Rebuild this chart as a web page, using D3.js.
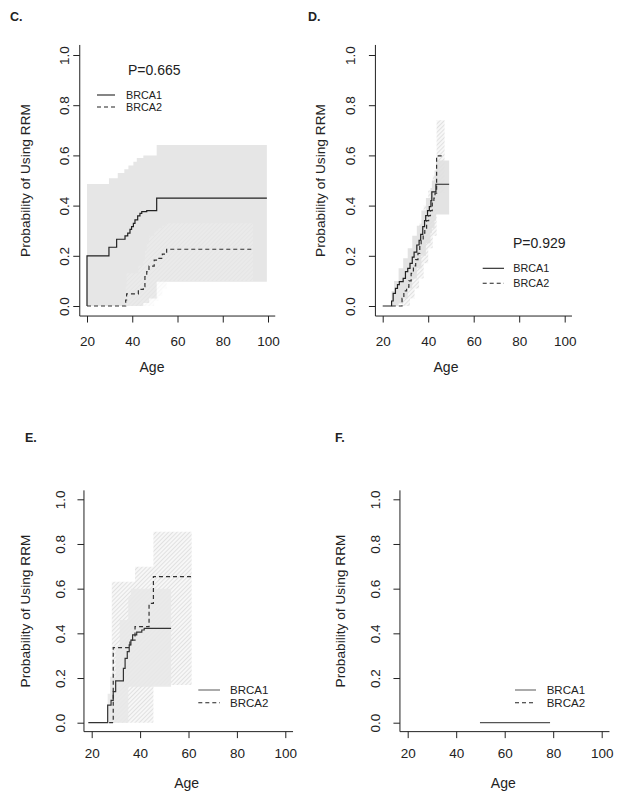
<!DOCTYPE html>
<html><head><meta charset="utf-8">
<script src="https://cdn.jsdelivr.net/npm/d3@7"></script>
<style>
body{margin:0;background:#fff}
svg{display:block}
text{font-family:"Liberation Sans",Arial,sans-serif;fill:#222}
</style>
</head><body>
<svg id="chart" width="624" height="801"></svg>
<script>
// ---------- data ----------
const xTicks = [20, 40, 60, 80, 100];
const yTicks = [0, 0.2, 0.4, 0.6, 0.8, 1.0];
const seriesNames = ["BRCA1", "BRCA2"];
const pValues = {C: "P=0.665", D: "P=0.929"};

// Panel C
const cAge1 = [20, 20, 29.7, 33.1, 36.8, 38.0, 39.0, 39.7, 40.5, 41.2, 42.4, 43.4, 44.2, 46.4, 50.8, 99.5];
const cVal1 = [0, 0.2, 0.234, 0.266, 0.279, 0.29, 0.305, 0.316, 0.329, 0.343, 0.359, 0.369, 0.376, 0.38, 0.43, 0.43];
const cAge2 = [20, 37.1, 37.5, 42.7, 44.9, 45.6, 46.4, 47.4, 49.7, 51.5, 53.3, 55.2, 93.3];
const cVal2 = [0, 0.024, 0.048, 0.066, 0.077, 0.117, 0.137, 0.159, 0.183, 0.19, 0.207, 0.226, 0.226];
const cBandAge1 = [20, 29.7, 33.6, 36.5, 38.3, 40.5, 42, 44.9, 47.5, 50.8, 99.5];
const cBandHi1 = [0.486, 0.509, 0.53, 0.545, 0.56, 0.575, 0.59, 0.60, 0.60, 0.641, 0.641];
const cBandLo1 = [0, 0, 0, 0, 0, 0, 0, 0.012, 0.03, 0.097, 0.097];
const cBandAge2 = [37.1, 37.5, 42.7, 44.9, 45.6, 46.4, 47.4, 49.7, 51.5, 53.3, 55.2, 93.3];
const cBandHi2 = [0.08, 0.13, 0.16, 0.18, 0.22, 0.25, 0.28, 0.30, 0.31, 0.32, 0.33, 0.33];
const cBandLo2 = [0, 0, 0, 0, 0, 0, 0, 0.02, 0.04, 0.07, 0.10, 0.10];

// Panel D
const dAge1 = [20, 23.9, 24.6, 25.6, 26.5, 27.3, 29.0, 30.0, 31.0, 32.0, 33.0, 33.8, 35.0, 36.0, 36.7, 37.6, 38.4, 38.9, 39.7, 40.5, 41.2, 41.6, 43.4, 49.2];
const dVal1 = [0, 0.02, 0.05, 0.07, 0.085, 0.097, 0.11, 0.137, 0.15, 0.17, 0.195, 0.215, 0.243, 0.262, 0.285, 0.316, 0.34, 0.36, 0.38, 0.396, 0.42, 0.455, 0.485, 0.485];
const dAge2 = [24, 28.5, 29.3, 30.5, 31.5, 32.5, 33.5, 34.5, 35.5, 36.3, 36.9, 37.8, 38.5, 39.3, 40.2, 41.0, 41.8, 42.5, 43.0, 43.7, 46.7];
const dVal2 = [0, 0.03, 0.06, 0.075, 0.1, 0.13, 0.16, 0.185, 0.21, 0.24, 0.265, 0.29, 0.31, 0.34, 0.36, 0.38, 0.41, 0.43, 0.45, 0.598, 0.598];
const dBandAge1 = [23.9, 25, 27, 29, 31, 33, 35, 37, 39, 41, 41.6, 42.8, 43.4, 49.2];
const dBandHi1 = [0.06, 0.1, 0.15, 0.19, 0.23, 0.28, 0.32, 0.38, 0.43, 0.47, 0.50, 0.54, 0.58, 0.58];
const dBandLo1 = [0, 0, 0.01, 0.03, 0.07, 0.11, 0.15, 0.2, 0.25, 0.29, 0.31, 0.34, 0.365, 0.365];
const dBandAge2 = [28.5, 30, 32, 34, 36, 38, 40, 42, 43.7, 47.2];
const dBandHi2 = [0.06, 0.12, 0.2, 0.26, 0.33, 0.40, 0.46, 0.52, 0.74, 0.74];
const dBandLo2 = [0, 0, 0.03, 0.07, 0.11, 0.17, 0.23, 0.28, 0.45, 0.45];

// Panel E
const eAge1 = [18.6, 26.6, 28.0, 28.9, 29.9, 33.1, 33.8, 34.7, 35.5, 36.2, 36.9, 38.6, 40.7, 41.7, 52.8];
const eVal1 = [0, 0.079, 0.10, 0.139, 0.187, 0.243, 0.288, 0.318, 0.348, 0.37, 0.393, 0.405, 0.415, 0.422, 0.422];
const eAge2 = [27.2, 28.9, 35.8, 37.9, 43.7, 45.5, 61.3];
const eVal2 = [0, 0.336, 0.37, 0.43, 0.534, 0.654, 0.654];
const eBandAge1 = [26.6, 27.6, 29.9, 31.6, 35.1, 36.2, 52.8];
const eBandHi1 = [0.13, 0.206, 0.34, 0.46, 0.564, 0.6, 0.6];
const eBandLo1 = [0, 0, 0, 0, 0.161, 0.161, 0.161];
const eBandAge2 = [28.3, 37.9, 45.5, 61.3];
const eBandHi2 = [0.631, 0.698, 0.855, 0.855];
const eBandLo2 = [0, 0, 0.169, 0.169];

// Panel F
const fAge1 = [49.8, 78.7];
const fVal1 = [0, 0];

// ---------- drawing ----------
const svg = d3.select("#chart");
const defs = svg.append("defs");
const pat = defs.append("pattern").attr("id", "hatch")
  .attr("patternUnits", "userSpaceOnUse").attr("width", 3).attr("height", 3)
  .attr("patternTransform", "rotate(45)");
pat.append("rect").attr("width", 3).attr("height", 3).attr("fill", "#f7f7f7");
pat.append("line").attr("x1", 0.5).attr("y1", 0).attr("x2", 0.5).attr("y2", 3)
  .attr("stroke", "#e1e1e1").attr("stroke-width", 1);

const zip = (a, v) => a.map((d, i) => [d, v[i]]);
const zipBand = (a, lo, hi) => a.map((d, i) => ({a: d, lo: lo[i], hi: hi[i]}));

const panels = [
  {label: "C.", lx: 10, ly: 21, xr: [87, 268], yr: [306, 55], ylOff: -15.5, yTitleX: 25, xlOff: 25, ageX: 152, ageY: 367,
   p: {text: pValues.C, x: 128, y: 70},
   leg: {x1: 97, x2: 115, tx: 126, y1: 95, y2: 107, fs: 10.8, c1: "#222"},
   bands: [{d: zipBand(cBandAge1, cBandLo1, cBandHi1), fill: "#e6e6e6"},
           {d: zipBand(cBandAge2, cBandLo2, cBandHi2), fill: "url(#hatch)", op: 0.25}],
   lines: [{d: zip(cAge1, cVal1), c: "#222"}, {d: zip(cAge2, cVal2), c: "#333", dash: true}]},
  {label: "D.", lx: 308, ly: 21, xr: [382.7, 564.7], yr: [306, 55], ylOff: -25, yTitleX: 320, xlOff: 25, ageX: 446, ageY: 367,
   p: {text: pValues.D, x: 513, y: 243},
   leg: {x1: 482.7, x2: 504, tx: 513.3, y1: 268.3, y2: 283.3, fs: 10.8, c1: "#222"},
   bands: [{d: zipBand(dBandAge2, dBandLo2, dBandHi2), fill: "url(#hatch)"},
           {d: zipBand(dBandAge1, dBandLo1, dBandHi1), fill: "#e0e0e0", op: 0.9}],
   lines: [{d: zip(dAge1, dVal1), c: "#222"}, {d: zip(dAge2, dVal2), c: "#333", dash: true}]},
  {label: "E.", lx: 25, ly: 442, xr: [91.7, 285.3], yr: [722.7, 499.3], ylOff: -24, yTitleX: 25, xlOff: 21.5, ageX: 186.7, ageY: 783,
   p: null,
   leg: {x1: 198.3, x2: 220, tx: 230, y1: 690, y2: 702.7, fs: 11.5, c1: "#666"},
   bands: [{d: zipBand(eBandAge2, eBandLo2, eBandHi2), fill: "url(#hatch)"},
           {d: zipBand(eBandAge1, eBandLo1, eBandHi1), fill: "#e8e8e8", op: 0.9}],
   lines: [{d: zip(eAge1, eVal1), c: "#333"}, {d: zip(eAge2, eVal2), c: "#333", dash: true}]},
  {label: "F.", lx: 335, ly: 442, xr: [407.7, 601.7], yr: [722.7, 499.3], ylOff: -25, yTitleX: 340, xlOff: 21.5, ageX: 503.3, ageY: 783,
   p: null,
   leg: {x1: 515, x2: 536, tx: 546.7, y1: 690, y2: 702.7, fs: 11.5, c1: "#666"},
   bands: [],
   lines: [{d: zip(fAge1, fVal1), c: "#555"}]}
];

panels.forEach(P => {
  const x = d3.scaleLinear().domain([20, 100]).range(P.xr);
  const y = d3.scaleLinear().domain([0, 1]).range(P.yr);
  const g = svg.append("g");
  const left = x(16.8), right = x(103.2), top = y(1.04), bottom = y(-0.04);

  const area = d3.area().x(d => x(d.a)).y0(d => y(d.lo)).y1(d => y(d.hi)).curve(d3.curveStepAfter);
  P.bands.forEach(b => {
    g.append("path").attr("d", area(b.d)).attr("fill", b.fill).attr("opacity", b.op == null ? 1 : b.op);
  });

  const line = d3.line().x(d => x(d[0])).y(d => y(d[1])).curve(d3.curveStepAfter);
  P.lines.forEach(l => {
    g.append("path").attr("d", line(l.d)).attr("fill", "none").attr("stroke", l.c)
      .attr("stroke-width", 1.2).attr("stroke-dasharray", l.dash ? "4,3" : null);
  });

  g.append("path").attr("d", `M${left},${top}V${bottom}H${right}`).attr("fill", "none")
    .attr("stroke", "#222").attr("stroke-width", 1);

  const xa = g.append("g").attr("transform", `translate(0,${bottom})`)
    .call(d3.axisBottom(x).tickValues(xTicks).tickSize(6.5).tickSizeOuter(0).tickFormat(d3.format("d")));
  xa.select(".domain").remove();
  xa.selectAll("line").attr("stroke", "#222");
  xa.selectAll("text").attr("y", P.xlOff).attr("dy", "0.35em").style("font-size", "13.5px")
    .style("font-family", '"Liberation Sans",Arial,sans-serif').attr("fill", "#222");

  const ya = g.append("g").attr("transform", `translate(${left},0)`)
    .call(d3.axisLeft(y).tickValues(yTicks).tickSize(6.5).tickSizeOuter(0).tickFormat(d3.format(".1f")));
  ya.select(".domain").remove();
  ya.selectAll("line").attr("stroke", "#222");
  ya.selectAll("text").attr("x", null).attr("dy", "0.35em").attr("text-anchor", "middle")
    .attr("transform", `translate(${P.ylOff},0) rotate(-90)`)
    .style("font-size", "13.5px").style("font-family", '"Liberation Sans",Arial,sans-serif').attr("fill", "#222");

  g.append("text").attr("transform", `translate(${P.yTitleX},${(top + bottom) / 2}) rotate(-90)`)
    .attr("text-anchor", "middle").attr("dy", "0.35em").style("font-size", "13.7px")
    .text("Probability of Using RRM");
  g.append("text").attr("x", P.ageX).attr("y", P.ageY).attr("dy", "0.35em").attr("text-anchor", "middle")
    .style("font-size", "14px").text("Age");
  g.append("text").attr("x", P.lx).attr("y", P.ly).style("font-size", "12.5px").style("font-weight", "bold")
    .attr("fill", "#111").text(P.label);

  if (P.p) {
    g.append("text").attr("x", P.p.x).attr("y", P.p.y).attr("dy", "0.35em").style("font-size", "14px")
      .attr("fill", "#111").text(P.p.text);
  }

  const L = P.leg;
  [[L.y1, false, L.c1], [L.y2, true, "#222"]].forEach(([ly, dash, c], i) => {
    g.append("line").attr("x1", L.x1).attr("x2", L.x2).attr("y1", ly).attr("y2", ly)
      .attr("stroke", c).attr("stroke-width", 1.1).attr("stroke-dasharray", dash ? "4,3" : null);
    g.append("text").attr("x", L.tx).attr("y", ly).attr("dy", "0.35em").style("font-size", L.fs + "px")
      .attr("fill", "#333").text(seriesNames[i]);
  });
});
</script>
</body></html>
